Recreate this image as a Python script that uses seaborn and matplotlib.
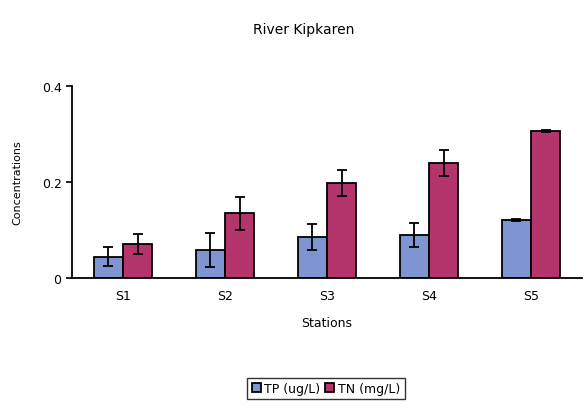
import matplotlib
matplotlib.use("Agg")
import matplotlib.pyplot as plt
import seaborn as sns
import pandas as pd
import numpy as np

stations = ["S1", "S2", "S3", "S4", "S5"]
tp_vals = [0.044, 0.058, 0.085, 0.090, 0.121]
tn_vals = [0.071, 0.135, 0.198, 0.240, 0.307]
tp_err = [0.020, 0.036, 0.027, 0.025, 0.002]
tn_err = [0.021, 0.034, 0.028, 0.027, 0.002]
series = ["TP (ug/L)", "TN (mg/L)"]
colors = ["#7F95D2", "#B3356B"]

df = pd.DataFrame({
    "Stations": stations * 2,
    "Concentrations": tp_vals + tn_vals,
    "err": tp_err + tn_err,
    "Series": [series[0]] * 5 + [series[1]] * 5,
})

sns.set_style("white")
plt.rcParams["font.family"] = ["DejaVu Sans"]
plt.rcParams["text.color"] = "black"
plt.rcParams["axes.labelcolor"] = "black"
plt.rcParams["xtick.color"] = "black"
plt.rcParams["ytick.color"] = "black"

fig = plt.figure(figsize=(5.84, 4.14), dpi=100)
ax = fig.add_axes([72 / 584, (414 - 279) / 414, 510 / 584, 192 / 414])

sns.barplot(data=df, x="Stations", y="Concentrations", hue="Series",
            palette=colors, saturation=1, width=0.57, edgecolor="black",
            linewidth=1.3, errorbar=None, ax=ax, legend=True)

# error bars at bar centers
for container, s in zip(ax.containers, series):
    sub = df[df.Series == s]
    xs = [p.get_x() + p.get_width() / 2 for p in container.patches]
    ax.errorbar(xs, sub["Concentrations"].values, yerr=sub["err"].values,
                fmt="none", ecolor="black", elinewidth=1.3, capsize=3.5,
                capthick=1.3, zorder=5)

ax.set_xlim(-0.5, 4.5)
ax.set_ylim(0, 0.4)
ax.set_yticks([0, 0.2, 0.4])
ax.set_yticklabels(["0", "0.2", "0.4"])
ax.tick_params(axis="x", which="major", length=0, labelsize=9, pad=8)
ax.set_xticks([0.5, 1.5, 2.5, 3.5, 4.5], minor=True)
ax.tick_params(axis="x", which="minor", length=4, width=1.2, direction="out", color="black")
ax.tick_params(axis="y", length=4, width=1.2, direction="out", labelsize=9, color="black", left=True)
for s in ["top", "right"]:
    ax.spines[s].set_visible(False)
for s in ["left", "bottom"]:
    ax.spines[s].set_color("black")
    ax.spines[s].set_linewidth(1.3)

ax.set_xlabel("Stations", fontsize=9, labelpad=10)
ax.set_ylabel("Concentrations", fontsize=8, labelpad=14)
fig.text(0.52, 0.928, "River Kipkaren", ha="center", va="center", fontsize=10)

leg = ax.legend(loc="center", bbox_to_anchor=(254 / 510, -0.575), ncol=2, frameon=True,
                fontsize=9, handlelength=0.7, handleheight=0.7, handletextpad=0.3,
                columnspacing=0.4, borderpad=0.35, fancybox=False)
leg.get_frame().set_edgecolor("black")
leg.get_frame().set_linewidth(1.0)

fig.savefig("out.png", dpi=100)
